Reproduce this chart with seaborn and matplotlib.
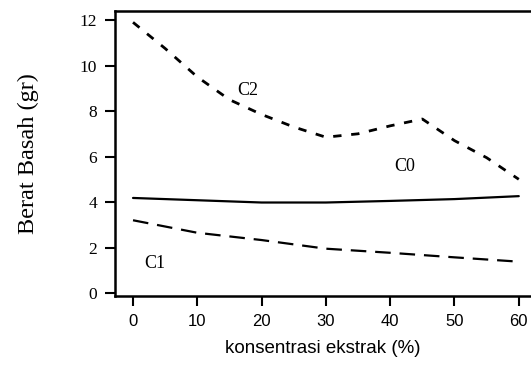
import matplotlib
matplotlib.use("Agg")
import matplotlib.pyplot as plt
import seaborn as sns
import pandas as pd

# Data
x_c2 = [0, 5, 10, 15, 20, 25, 30, 35, 40, 45, 50, 55, 60]
y_c2 = [11.9, 10.75, 9.5, 8.5, 7.85, 7.3, 6.85, 7.0, 7.35, 7.65, 6.7, 5.95, 5.0]
x_c0 = [0, 10, 20, 30, 40, 50, 60]
y_c0 = [4.18, 4.08, 3.98, 3.98, 4.05, 4.13, 4.26]
x_c1 = [0, 10, 20, 30, 40, 50, 60]
y_c1 = [3.2, 2.65, 2.33, 1.95, 1.77, 1.57, 1.38]

x_ticks = [0, 10, 20, 30, 40, 50, 60]
y_ticks = [0, 2, 4, 6, 8, 10, 12]
x_label = "konsentrasi ekstrak (%)"
y_label = "Berat Basah (gr)"

sns.set_style("white")
plt.rcParams['font.family'] = ['Liberation Sans', 'DejaVu Sans']
plt.rcParams['text.color'] = 'black'
plt.rcParams['axes.labelcolor'] = 'black'
plt.rcParams['xtick.color'] = 'black'
plt.rcParams['ytick.color'] = 'black'

fig = plt.figure(figsize=(5.31, 3.65), dpi=100)
ax = fig.add_axes([0.2166, 0.189, 0.7834, 0.781])

df2 = pd.DataFrame({"x": x_c2, "y": y_c2})
df0 = pd.DataFrame({"x": x_c0, "y": y_c0})
df1 = pd.DataFrame({"x": x_c1, "y": y_c1})

sns.lineplot(data=df2, x="x", y="y", ax=ax, color="black", lw=2.0)
ax.lines[-1].set_dashes([3, 3.5])
sns.lineplot(data=df0, x="x", y="y", ax=ax, color="black", lw=1.6)
sns.lineplot(data=df1, x="x", y="y", ax=ax, color="black", lw=1.6)
ax.lines[-1].set_dashes([7, 4])

serif = ['Liberation Serif', 'DejaVu Serif']
ax.text(17.8, 8.9, "C2", family=serif, fontsize=13, ha="center", va="center")
ax.text(42.3, 5.55, "C0", family=serif, fontsize=13, ha="center", va="center")
ax.text(3.4, 1.3, "C1", family=serif, fontsize=13, ha="center", va="center")

ax.set_xlim(-2.8, 61.9)
ax.set_ylim(-0.13, 12.4)
ax.set_xticks(x_ticks)
ax.set_yticks(y_ticks)
ax.set_yticklabels([str(v) for v in y_ticks], family=serif, fontsize=12.5)
ax.set_xticklabels([str(v) for v in x_ticks], fontsize=12)

for s in ["left", "bottom", "top"]:
    ax.spines[s].set_visible(True)
    ax.spines[s].set_color("black")
    ax.spines[s].set_linewidth(1.8)
ax.spines["right"].set_visible(False)

ax.tick_params(axis="both", direction="out", length=7, width=1.5, color="black",
               left=True, bottom=True, pad=6)

ax.set_xlabel(x_label, fontsize=13.5, labelpad=8)
ax.set_ylabel(y_label, family=serif, fontsize=17.5, labelpad=29)

fig.savefig("out.png", dpi=100)
